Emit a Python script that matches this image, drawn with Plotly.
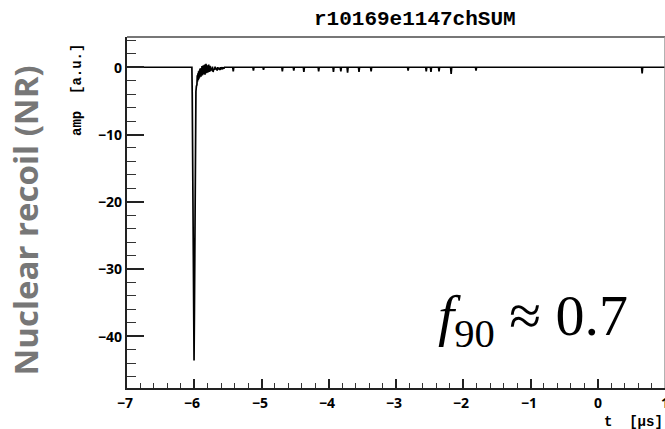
import plotly.graph_objects as go

# ---- waveform data (t in microseconds, amplitude in a.u.) ----
t_base = [-7.0, -6.035]
a_base = [0.0, 0.0]

t_pulse = [-6.03, -6.02, -6.01, -6.003, -5.997, -5.99, -5.982, -5.975, -5.968]
a_pulse = [-4.0, -18.0, -35.0, -43.6, -36.0, -20.0, -8.0, -3.6, -2.8]

t_noise = [-5.96, -5.955, -5.95, -5.945, -5.94, -5.935, -5.93, -5.925, -5.92, -5.915,
           -5.91, -5.905, -5.90, -5.895, -5.89, -5.885, -5.88, -5.875, -5.87, -5.865,
           -5.86, -5.855, -5.85, -5.845, -5.84, -5.835, -5.83, -5.825, -5.82, -5.815,
           -5.81, -5.805, -5.80, -5.795, -5.79, -5.785, -5.78, -5.775, -5.77, -5.765,
           -5.76, -5.75, -5.74, -5.73, -5.72, -5.71, -5.70, -5.69, -5.68, -5.67,
           -5.66, -5.65, -5.64, -5.63, -5.62, -5.61, -5.60, -5.59, -5.58, -5.57,
           -5.56, -5.55]
a_noise = [-2.6, -1.2, -2.1, -0.9, -1.9, -0.6, -1.7, -0.5, -1.5, -0.3,
           -1.3, -0.2, -1.4, -0.4, -1.1, 0.2, -1.2, -0.3, -0.9, 0.3,
           -1.0, -0.1, -0.8, 0.4, -1.1, -0.2, -0.7, 0.5, -0.9, -0.1,
           -0.6, 0.3, -0.8, 0.0, -0.5, 0.4, -0.7, -0.1, -0.4, 0.2,
           -0.6, -0.1, -0.5, 0.1, -0.7, -0.2, -0.4, 0.1, -0.3, -0.1,
           -0.5, 0.0, -0.3, -0.1, -0.4, 0.0, -0.2, -0.1, -0.3, 0.0,
           -0.2, 0.0]

# isolated small negative spikes on the baseline (time, depth)
spike_t = [-5.42, -5.12, -4.97, -4.69, -4.52, -4.37, -4.15, -3.93, -3.82, -3.72,
           -3.55, -3.37, -2.82, -2.55, -2.48, -2.36, -2.18, -1.81, 0.66]
spike_a = [-0.6, -0.5, -0.4, -0.6, -0.5, -0.7, -0.6, -0.7, -0.6, -0.8,
           -0.7, -0.6, -0.5, -0.6, -0.7, -0.6, -1.0, -0.5, -0.9]

t_end = [1.0]
a_end = [0.0]

# assemble the series
t = t_base + t_pulse + t_noise
a = a_base + a_pulse + a_noise
for st, sa in zip(spike_t, spike_a):
    t += [st - 0.008, st, st + 0.008]
    a += [0.0, sa, 0.0]
t += t_end
a += a_end

x_ticks = [-7, -6, -5, -4, -3, -2, -1, 0, 1]
y_ticks = [0, -10, -20, -30, -40]


def lab(v):
    return "<b>" + (("\u2212" + str(-v)) if v < 0 else str(v)) + "</b>"


fig = go.Figure()
fig.add_trace(go.Scatter(x=t, y=a, mode="lines",
                         line=dict(color="black", width=1.7),
                         hoverinfo="skip", showlegend=False))

# frame top/right (gray)
fig.add_shape(type="line", xref="paper", yref="paper", x0=0, x1=1, y0=1, y1=1,
              line=dict(color="#777777", width=2))
fig.add_shape(type="line", xref="paper", yref="paper", x0=1, x1=1, y0=0, y1=1,
              line=dict(color="#999999", width=1.5))

fig.update_xaxes(range=[-7, 1], tickvals=x_ticks, showticklabels=False,
                 ticks="inside", ticklen=9, tickwidth=1.6, tickcolor="#222",
                 showline=True, linecolor="#222", linewidth=2, showgrid=False, zeroline=False,
                 minor=dict(dtick=0.2, tick0=-7, ticks="inside", ticklen=5, tickwidth=1.2, tickcolor="#333"))
fig.update_yaxes(range=[-47.7, 4.5], tickvals=y_ticks, showticklabels=False,
                 ticks="inside", ticklen=17, tickwidth=1.6, tickcolor="#222",
                 showline=True, linecolor="#222", linewidth=2, showgrid=False, zeroline=False,
                 minor=dict(dtick=2, tick0=0, ticks="inside", ticklen=9, tickwidth=1.2, tickcolor="#333"))

lblfont = dict(family="Open Sans", size=14, color="black")
for v in x_ticks:
    fig.add_annotation(text=lab(v), xref="x", x=v, xshift=-2 if v < 0 else 0, yref="paper", y=0, yshift=-14,
                       xanchor="center", yanchor="middle", showarrow=False, font=lblfont)
for v in y_ticks:
    fig.add_annotation(text=lab(v), xref="paper", x=0, xshift=-3, yref="y", y=v,
                       xanchor="right", yanchor="middle", showarrow=False, font=lblfont)

fig.add_annotation(text="<b>r10169e1147chSUM</b>", xref="paper", yref="paper",
                   x=0.535, y=1, yshift=18, xanchor="center", yanchor="middle", showarrow=False,
                   font=dict(family="Liberation Mono", size=21, color="black"))
fig.add_annotation(text="<b>amp  [a.u.]</b>", xref="paper", yref="paper",
                   x=0, xshift=-50, y=1, yshift=-5, xanchor="center", yanchor="top", textangle=-90,
                   showarrow=False, font=dict(family="Liberation Mono", size=14, color="black"))
fig.add_annotation(text="<b>t  [\u03bcs]</b>", xref="paper", yref="paper",
                   x=1, xshift=0, y=0, yshift=-34, xanchor="right", yanchor="middle",
                   showarrow=False, font=dict(family="Liberation Mono", size=14, color="black"))
fig.add_annotation(text="<b>Nuclear recoil (NR)</b>", xref="paper", yref="paper",
                   x=0, xshift=-102, y=0.5, yshift=-8, xanchor="center", yanchor="middle", textangle=-90,
                   showarrow=False, font=dict(family="Open Sans", size=33, color="#777777"))
fig.add_annotation(text="<i>f</i><sub>90</sub> \u2248 0.7", xref="paper", yref="paper",
                   x=0.755, y=0.195, xanchor="center", yanchor="middle",
                   showarrow=False, font=dict(family="Liberation Serif", size=58, color="black"))

fig.update_layout(width=665, height=429, margin=dict(l=127, r=0, t=37, b=41),
                  paper_bgcolor="white", plot_bgcolor="white")

fig.write_html("out.html")
